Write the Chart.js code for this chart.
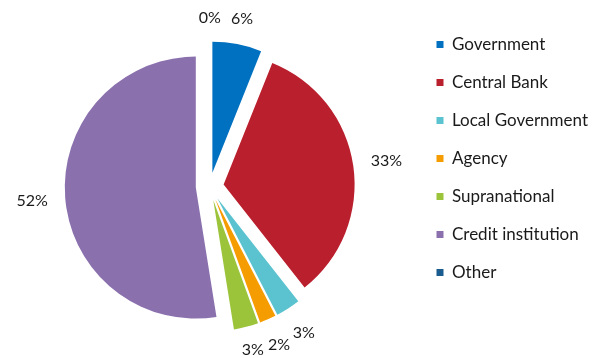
<!DOCTYPE html>
<html>
<head>
<meta charset="utf-8">
<script src="https://cdn.jsdelivr.net/npm/chart.js@4.4.0/dist/chart.umd.min.js"></script>
<style>
  html, body { margin: 0; padding: 0; background: #fff; }
  #wrap { width: 598px; height: 358px; }
</style>
</head>
<body>
<div id="wrap"><canvas id="pieChart"></canvas></div>
<script>
var sectors = ['Government', 'Central Bank', 'Local Government', 'Agency', 'Supranational', 'Credit institution', 'Other'];
var shares = [6, 33, 3, 2, 3, 52, 0];
var sectorColors = ['#0070C0', '#BA1F2D', '#5BC3D0', '#F59C00', '#9BC43B', '#8B70AE', '#1B5C8E'];

var explode = 14; // px every slice is pulled out from the centre

// the built-in arc offset also grows the radius, so move the slices ourselves
var explodeSlices = {
  id: 'explodeSlices',
  afterDatasetUpdate: function(chart, args) {
    chart.getDatasetMeta(args.index).data.forEach(function(arc) {
      var mid = (arc.startAngle + arc.endAngle) / 2;
      arc.x += Math.cos(mid) * explode;
      arc.y += Math.sin(mid) * explode;
    });
  }
};

// percentage text just outside each slice
var sliceLabels = {
  id: 'sliceLabels',
  afterDatasetsDraw: function(chart) {
    var ctx = chart.ctx;
    var meta = chart.getDatasetMeta(0);
    ctx.save();
    ctx.font = '16px Lato';
    ctx.fillStyle = '#1a1a1a';
    ctx.textAlign = 'center';
    ctx.textBaseline = 'middle';
    meta.data.forEach(function(arc, i) {
      var text = shares[i] + '%';
      var w = ctx.measureText(text).width;
      var a = (arc.startAngle + arc.endAngle) / 2;
      var ux = Math.cos(a), uy = Math.sin(a);
      var r = arc.outerRadius + 17 + Math.abs(ux) * w / 2 + Math.abs(uy) * 7;
      var x = arc.x + ux * r;
      var y = Math.min(arc.y + uy * r, chart.height - 8);
      ctx.fillText(text, x, y);
    });
    ctx.restore();
  }
};

var ctx = document.getElementById('pieChart');
var myPie = new Chart(ctx, {
  type: 'pie',
  data: {
    labels: sectors,
    datasets: [{
      data: shares,
      backgroundColor: sectorColors,
      borderWidth: 0,
      hoverOffset: 0,
      radius: 131
    }]
  },
  options: {
    responsive: true,
    maintainAspectRatio: false,
    animation: false,
    events: [],
    layout: {
      padding: { top: 15, bottom: 0, left: 4, right: 0 }
    },
    plugins: {
      tooltip: { enabled: false },
      legend: {
        position: 'right',
        align: 'start',
        labels: {
          boxWidth: 7,
          boxHeight: 7,
          padding: 21,
          color: '#1a1a1a',
          font: { family: 'Lato', size: 17 }
        }
      }
    }
  },
  plugins: [explodeSlices, sliceLabels]
});
</script>
</body>
</html>
